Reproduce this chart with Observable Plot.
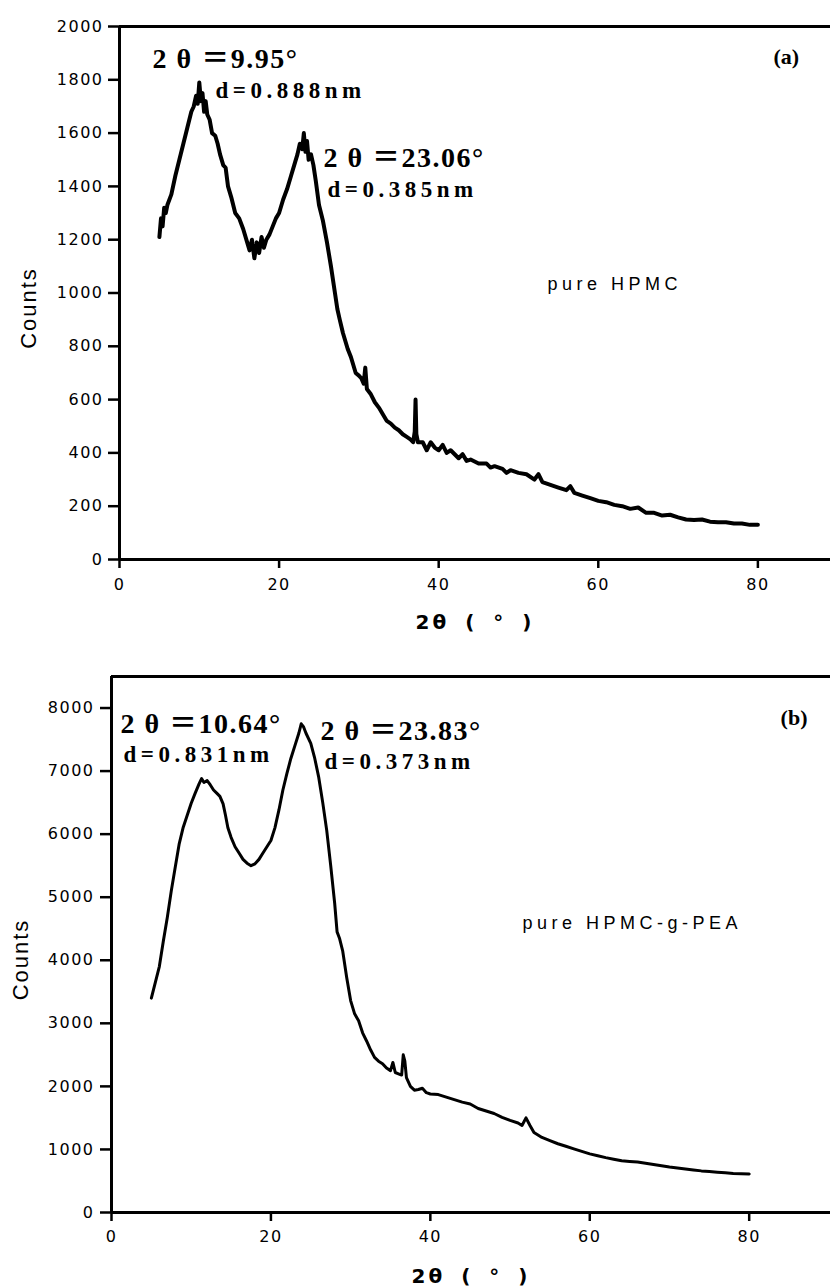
<!DOCTYPE html>
<html><head><meta charset="utf-8">
<script src="https://cdn.jsdelivr.net/npm/d3@7"></script>
<script src="https://cdn.jsdelivr.net/npm/@observablehq/plot@0.6"></script>
<style>
body{margin:0;background:#fff}
#chart{width:830px}
svg{display:block}
g[aria-label="y-axis tick label"] text, g[aria-label="x-axis tick label"] text{letter-spacing:1.5px}
text[aria-label="peak-line1"]{letter-spacing:1.5px}
text[aria-label="peak-line2"]{letter-spacing:4.5px}
text[aria-label="sample"]{letter-spacing:4.5px}
text[aria-label="x-title"]{letter-spacing:3px;word-spacing:6px}
text[aria-label="y-title"]{letter-spacing:2px}
</style></head>
<body><div id="chart"></div>
<script>
// ---------- Panel (a): pure HPMC ----------
const twoThetaA = [5,5.2,5.4,5.6,5.8,6,6.5,7,7.5,8,8.5,9,9.3,9.6,9.8,10,10.2,10.4,10.6,10.8,11,11.3,11.6,12,12.3,12.6,13,13.3,13.6,14,14.5,15,15.5,16,16.3,16.6,16.9,17.2,17.5,17.8,18.1,18.4,18.8,19.2,19.6,20,20.5,21,21.5,22,22.3,22.6,22.9,23.1,23.3,23.5,23.7,24,24.3,24.6,25,25.5,26,26.5,27,27.3,27.6,28,28.3,28.6,29,29.3,29.6,30,30.3,30.6,30.8,31,31.5,32,32.5,33,33.5,34,34.5,35,35.5,36,36.5,36.8,37,37.1,37.2,37.4,38,38.5,39,39.5,40,40.5,41,41.5,42,42.5,43,43.5,44,45,46,46.5,47,48,48.5,49,50,51,52,52.5,53,54,55,56,56.5,57,58,59,60,61,62,63,64,65,66,67,68,69,70,71,72,73,74,75,76,77,78,79,80];
const countsA = [1210,1280,1250,1320,1300,1330,1370,1440,1500,1560,1620,1680,1700,1740,1710,1790,1720,1750,1680,1720,1670,1650,1600,1590,1560,1520,1480,1470,1400,1360,1300,1280,1240,1190,1160,1200,1130,1190,1150,1210,1170,1200,1220,1250,1280,1300,1350,1390,1440,1490,1520,1560,1540,1600,1530,1570,1500,1520,1480,1420,1330,1270,1190,1100,1000,940,900,850,820,790,760,730,700,690,680,660,720,640,620,590,570,545,520,510,495,485,470,460,450,440,480,600,470,440,440,410,440,420,410,430,400,410,395,380,395,370,375,360,360,345,350,340,325,335,325,320,300,320,290,280,270,260,275,250,240,230,220,215,205,200,190,195,175,175,165,168,158,150,148,150,142,140,140,135,135,130,130];
const yTicksA = [0,200,400,600,800,1000,1200,1400,1600,1800,2000];
const panelTagA = "(a)";
const sampleA = "pure HPMC";
const peakTextA = ["2 θ ＝9.95°", "2 θ ＝23.06°"];
const peakXA = [4.14, 25.56];
const peakYA = [1846, 1471];
const dTextA = ["d=0.888nm", "d=0.385nm"];
const dXA = [12.03, 26.07];
const dYA = [1730, 1360];

// ---------- Panel (b): pure HPMC-g-PEA ----------
const twoThetaB = [5,5.5,6,6.5,7,7.5,8,8.5,9,9.5,10,10.5,11,11.3,11.6,12,12.4,12.8,13.2,13.6,14,14.3,14.6,15,15.5,16,16.5,17,17.5,18,18.5,19,19.5,20,20.5,21,21.5,22,22.5,23,23.5,23.8,24.1,24.4,25,25.5,26,26.5,27,27.5,28,28.3,28.6,29,29.5,30,30.5,31,31.5,32,32.5,33,33.5,34,34.5,35,35.3,35.6,36,36.4,36.6,36.8,37,37.5,38,38.5,39,39.5,40,41,42,43,44,45,46,47,48,49,50,51,51.5,52,52.5,53,54,55,56,57,58,59,60,61,62,63,64,65,66,67,68,69,70,71,72,73,74,75,76,77,78,79,80];
const countsB = [3400,3650,3900,4300,4680,5100,5480,5850,6110,6300,6490,6650,6800,6880,6820,6850,6780,6700,6650,6600,6480,6300,6100,5950,5800,5700,5600,5540,5500,5530,5600,5700,5800,5900,6100,6380,6700,6960,7200,7400,7600,7750,7700,7600,7440,7200,6900,6500,6060,5500,4900,4450,4350,4150,3730,3360,3150,3040,2850,2720,2580,2460,2400,2360,2290,2250,2380,2220,2200,2180,2500,2400,2140,2000,1940,1950,1970,1900,1880,1870,1830,1790,1750,1720,1650,1610,1570,1510,1460,1420,1380,1500,1380,1270,1190,1140,1090,1050,1010,970,930,900,870,845,820,810,800,780,760,740,720,705,690,675,660,650,640,630,620,615,610];
const yTicksB = [0,1000,2000,3000,4000,5000,6000,7000,8000];
const panelTagB = "(b)";
const sampleB = "pure HPMC-g-PEA";
const peakTextB = ["2 θ ＝10.64°", "2 θ ＝23.83°"];
const peakXB = [1.13, 26.22];
const peakYB = [7603, 7500];
const dTextB = ["d=0.831nm", "d=0.373nm"];
const dXB = [1.51, 26.72];
const dYB = [7143, 7040];

const xTicks = [0,20,40,60,80];
const xTitle = "2θ ( ° )";
const yTitle = "Counts";

const serif = "'Liberation Serif','Noto Sans CJK SC',serif";
const sans = "'DejaVu Sans',sans-serif";
const lab = s => () => s;

function panel(cfg) {
  const data = cfg.xs.map((x, i) => ({x, y: cfg.ys[i]}));
  const peaks = cfg.peakText.map((t, i) => ({t, x: cfg.peakX[i], y: cfg.peakY[i]}));
  const ds = cfg.dText.map((t, i) => ({t, x: cfg.dX[i], y: cfg.dY[i]}));
  return Plot.plot({
    width: 830, height: cfg.height,
    marginTop: cfg.mt, marginBottom: cfg.mb, marginLeft: cfg.ml, marginRight: 0,
    style: {fontFamily: sans, fontSize: "16px", color: "black", background: "white", overflow: "visible"},
    x: {domain: cfg.xDomain},
    y: {domain: cfg.yDomain},
    marks: [
      Plot.axisY(cfg.yTicks, {anchor: "left", tickSize: 11, tickPadding: cfg.ytp, stroke: "black", strokeWidth: 2.5, label: null, tickFormat: d => String(d)}),
      Plot.axisX(xTicks, {anchor: "bottom", tickSize: cfg.xts, tickPadding: cfg.xtp, stroke: "black", strokeWidth: 2.5, label: null, tickFormat: d => String(d)}),
      Plot.ruleX([0], {stroke: "black", strokeWidth: 3}),
      Plot.ruleY([0], {stroke: "black", strokeWidth: 3}),
      Plot.ruleY([cfg.yDomain[1]], {stroke: "black", strokeWidth: 3}),
      Plot.line(data, {x: "x", y: "y", stroke: "black", strokeWidth: cfg.lw}),
      Plot.text(peaks, {x: "x", y: "y", text: "t", textAnchor: "start", lineAnchor: "bottom", fontFamily: serif, fontWeight: "bold", fontSize: 28, ariaLabel: lab("peak-line1")}),
      Plot.text(ds, {x: "x", y: "y", text: "t", textAnchor: "start", lineAnchor: "bottom", fontFamily: serif, fontWeight: "bold", fontSize: 23, ariaLabel: lab("peak-line2")}),
      Plot.text([cfg.tag], {x: cfg.tagX, y: cfg.tagY, text: d => d, textAnchor: "start", lineAnchor: "bottom", fontFamily: serif, fontWeight: "bold", fontSize: 22}),
      Plot.text([cfg.sample], {x: cfg.sampleX, y: cfg.sampleY, text: d => d, textAnchor: "start", lineAnchor: "middle", fontFamily: "'Liberation Sans',sans-serif", fontSize: 18, ariaLabel: lab("sample")}),
      Plot.text([yTitle], {frameAnchor: "left", rotate: -90, dx: -91, dy: 15, textAnchor: "middle", lineAnchor: "middle", fontFamily: "'Liberation Sans',sans-serif", fontSize: 22, ariaLabel: lab("y-title")}),
      Plot.text([xTitle], {frameAnchor: "bottom", dy: cfg.xtitleDy, textAnchor: "middle", lineAnchor: "bottom", fontFamily: sans, fontWeight: "bold", fontSize: 20, ariaLabel: lab("x-title")})
    ]
  });
}

const chart = document.getElementById("chart");
chart.appendChild(panel({
  xs: twoThetaA, ys: countsA, yTicks: yTicksA, height: 645, mt: 26, mb: 86, ml: 119,
  xDomain: [0, 89.1], yDomain: [0, 2000], ytp: 5, xts: 9, xtp: 10, lw: 4,
  peakText: peakTextA, peakX: peakXA, peakY: peakYA, dText: dTextA, dX: dXA, dY: dYA,
  tag: panelTagA, tagX: 81.95, tagY: 1861, sample: sampleA, sampleX: 53.63, sampleY: 1032, xtitleDy: 69
}));
chart.appendChild(panel({
  xs: twoThetaB, ys: countsB, yTicks: yTicksB, height: 643, mt: 31, mb: 76, ml: 111,
  xDomain: [0, 90.2], yDomain: [0, 8500], ytp: 6, xts: 9, xtp: 9, lw: 3,
  peakText: peakTextB, peakX: peakXB, peakY: peakYB, dText: dTextB, dX: dXB, dY: dYB,
  tag: panelTagB, tagX: 83.94, tagY: 7730, sample: sampleB, sampleX: 51.57, sampleY: 4587, xtitleDy: 70
}));
</script></body></html>
